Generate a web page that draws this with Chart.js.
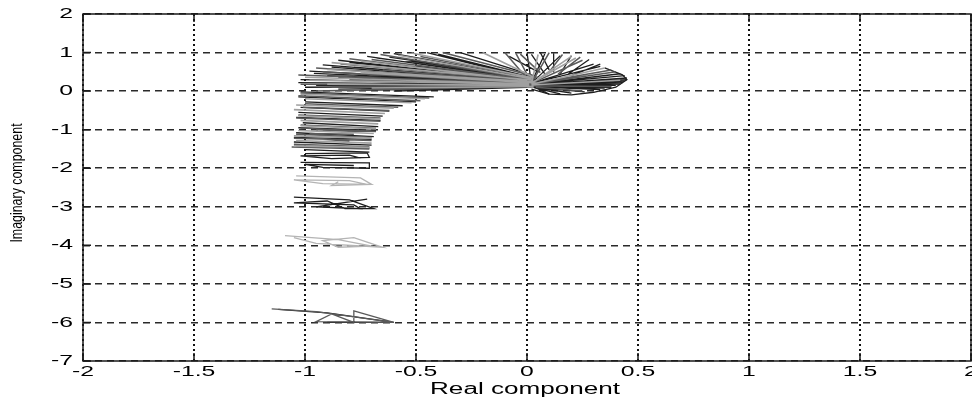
<!DOCTYPE html>
<html>
<head>
<meta charset="utf-8">
<title>Root locus</title>
<script src="https://cdn.jsdelivr.net/npm/chart.js@4.4.0/dist/chart.umd.min.js"></script>
<style>
  html, body { margin: 0; padding: 0; background: #ffffff; }
  #wrap { width: 972px; height: 399px; position: relative; }
</style>
</head>
<body>
<div id="wrap"><canvas id="locus-chart"></canvas></div>
<script>
// Axis ticks
const xTicks = [-2, -1.5, -1, -0.5, 0, 0.5, 1, 1.5, 2];
const xTickLabels = ['-2', '-1.5', '-1', '-0.5', '0', '0.5', '1', '1.5', '2'];
const yTicks = [2, 1, 0, -1, -2, -3, -4, -5, -6, -7];
const yTickLabels = ['2', '1', '0', '-1', '-2', '-3', '-4', '-5', '-6', '-7'];

// Dark segments (start -> end): upper fan, right lobe, spikes, left column
const darkX0 = [0.02, 0.00, 0.03, -0.02, 0.00, 0.02, 0.00, 0.04, 0.02, 0.05, 0.00, 0.03, 0.01, 0.04, -0.05,
  0.01, 0.03, 0.00, 0.02, 0.04, 0.01, 0.03, 0.05, 0.02, 0.00, 0.03, 0.02, -0.10, 0.00,
  0.02, 0.02, 0.02, 0.02, 0.02, 0.02, 0.03, 0.03, 0.02, 0.02, 0.04,
  0.03, 0.03, 0.03, 0.03, 0.03, 0.03, 0.02, 0.02, 0.02, 0.02,
  0.08, 0.12, 0.15, 0.18, 0.20, 0.05, 0.10,
  -1.02, -1.00, -1.03, -1.01, -1.04, -1.05, -1.00,
  -1.03, -1.02, -1.04, -1.03, -1.05, -1.04];
const darkY0 = [0.18, 0.22, 0.25, 0.28, 0.30, 0.33, 0.35, 0.38, 0.14, 0.12, 0.10, 0.20, 0.26, 0.16, 0.40,
  0.17, 0.21, 0.24, 0.27, 0.30, 0.32, 0.34, 0.15, 0.11, 0.19, 0.23, 0.28, 0.45, 0.13,
  0.20, 0.20, 0.20, 0.18, 0.16, 0.15, 0.12, 0.10, 0.14, 0.12, 0.08,
  0.14, 0.13, 0.12, 0.11, 0.10, 0.09, 0.17, 0.18, 0.22, 0.20,
  0.45, 0.48, 0.45, 0.42, 0.40, 0.50, 0.55,
  -0.02, -0.28, -0.55, -0.82, -1.08, -1.32, -1.52,
  -0.15, -0.42, -0.68, -0.95, -1.20, -1.42];
const darkX1 = [-1.02, -0.98, -0.92, -0.85, -0.72, -0.60, -0.45, -0.30, -1.00, -0.85, -0.60, -0.90, -0.78, -0.70, -0.55,
  -1.03, -0.96, -0.88, -0.80, -0.68, -0.55, -0.40, -0.95, -0.75, -0.85, -0.60, -0.50, -0.62, -0.50,
  0.00, 0.15, 0.30, 0.44, 0.45, 0.40, 0.30, 0.20, 0.43, 0.35, 0.10,
  0.44, 0.42, 0.38, 0.33, 0.26, 0.15, 0.45, 0.42, 0.08, 0.33,
  0.02, 0.12, 0.20, 0.28, 0.33, -0.08, 0.06,
  -0.42, -0.56, -0.65, -0.67, -0.69, -0.70, -0.71,
  -0.50, -0.62, -0.66, -0.68, -0.70, -0.71];
const darkY1 = [0.30, 0.52, 0.68, 0.80, 0.90, 0.97, 1.00, 1.00, 0.10, 0.05, 0.00, 0.40, 0.62, 0.25, 0.80,
  0.22, 0.46, 0.62, 0.74, 0.86, 0.92, 0.96, 0.15, 0.02, 0.35, 0.45, 0.65, 0.88, 0.05,
  1.00, 0.92, 0.70, 0.40, 0.30, 0.15, 0.05, -0.05, 0.22, 0.08, -0.08,
  0.26, 0.18, 0.10, 0.04, -0.02, -0.07, 0.34, 0.45, 0.96, 0.64,
  0.95, 0.98, 0.92, 0.82, 0.70, 0.90, 1.00,
  -0.15, -0.38, -0.65, -0.92, -1.18, -1.40, -1.58,
  -0.28, -0.52, -0.76, -1.02, -1.25, -1.48];

// Mid-gray segments
const grayX0 = [0.01, 0.03, 0.00, 0.02, 0.05, 0.02, 0.04, 0.00,
  0.02, 0.00, 0.03, 0.01, 0.04, 0.02, 0.00,
  0.02, 0.02, 0.02, 0.02, 0.02, 0.04, 0.02, 0.02,
  0.10, 0.14, 0.06,
  -1.03, -1.01, -1.04, -1.02, -1.05, -1.06, -0.95, -0.93, -0.92,
  -1.02, -1.00, -1.03, -1.02, -1.04, -1.05, -0.98];
const grayY0 = [0.20, 0.23, 0.27, 0.31, 0.36, 0.12, 0.17, 0.24,
  0.16, 0.21, 0.26, 0.30, 0.33, 0.13, 0.18,
  0.20, 0.20, 0.20, 0.18, 0.14, 0.10, 0.22, 0.19,
  0.50, 0.44, 0.48,
  -0.12, -0.42, -0.70, -0.96, -1.22, -1.45, -1.00, -1.15, -1.25,
  -0.05, -0.33, -0.62, -0.88, -1.12, -1.38, -1.10];
const grayX1 = [-1.03, -0.95, -0.80, -0.66, -0.38, -0.95, -0.80, -0.65,
  -1.02, -0.92, -0.84, -0.70, -0.48, -0.88, -0.55,
  -0.10, 0.10, 0.25, 0.40, 0.38, 0.25, -0.05, 0.38,
  0.16, 0.24, -0.03,
  -0.48, -0.62, -0.66, -0.68, -0.70, -0.71, -0.78, -0.77, -0.80,
  -0.44, -0.58, -0.66, -0.68, -0.70, -0.71, -0.78];
const grayY1 = [0.42, 0.60, 0.84, 0.95, 1.00, 0.00, 0.30, 0.55,
  0.18, 0.50, 0.70, 0.82, 0.90, 0.10, 0.30,
  1.00, 1.00, 0.80, 0.50, 0.12, 0.00, 0.98, 0.55,
  0.95, 0.88, 0.96,
  -0.25, -0.50, -0.78, -1.05, -1.28, -1.50, -1.05, -1.20, -1.30,
  -0.18, -0.42, -0.70, -0.96, -1.20, -1.44, -1.12];

// Light-gray segments
const lightX0 = [0.00, 0.02, 0.03, 0.01, 0.04, 0.02,
  0.01, 0.03, 0.00, 0.02, 0.03,
  0.02, 0.02, 0.02, 0.02, 0.02,
  -1.00, -1.05, -1.02, -1.03, -1.04,
  -1.02, -1.04, -1.03, -1.02, -1.05, -1.05];
const lightY0 = [0.19, 0.29, 0.34, 0.15, 0.21, 0.39,
  0.18, 0.24, 0.28, 0.32, 0.12,
  0.20, 0.20, 0.18, 0.16, 0.21,
  -0.20, -0.48, -0.76, -1.02, -1.28,
  -0.08, -0.36, -0.64, -0.90, -1.16, -1.42];
const lightX1 = [-1.00, -0.88, -0.52, -0.90, -0.75, -0.20,
  -0.98, -0.90, -0.75, -0.58, -0.70,
  0.05, 0.20, 0.35, 0.42, 0.22,
  -0.52, -0.64, -0.67, -0.69, -0.70,
  -0.46, -0.60, -0.66, -0.68, -0.70, -0.71];
const lightY1 = [0.36, 0.74, 0.99, 0.18, 0.48, 1.00,
  0.28, 0.56, 0.78, 0.93, 0.08,
  0.95, 0.90, 0.60, 0.28, 0.86,
  -0.30, -0.58, -0.85, -1.10, -1.35,
  -0.20, -0.44, -0.72, -0.98, -1.22, -1.46];

// Polylines
const lobeEdgeX = [0.02, 0.10, 0.20, 0.30, 0.40, 0.45, 0.43, 0.35];
const lobeEdgeY = [0.05, -0.08, -0.10, -0.03, 0.10, 0.30, 0.42, 0.60];
const loopAX = [-1.00, -0.72, -0.71, -0.88, -1.02, -0.80, -0.75];
const loopAY = [-1.62, -1.60, -1.72, -1.75, -1.68, -1.66, -1.74];
const loopBX = [-1.02, -0.71, -0.71, -0.92, -1.00, -0.78];
const loopBY = [-1.85, -1.86, -2.00, -1.98, -1.90, -1.93];
const ring2X = [-1.04, -0.75, -0.70, -0.92, -1.05, -0.80, -0.72, -0.88, -0.85];
const ring2Y = [-2.20, -2.25, -2.42, -2.40, -2.30, -2.32, -2.42, -2.45, -2.35];
const ring3X = [-1.05, -0.80, -0.69, -0.82, -0.90, -1.05, -0.78, -0.75, -0.95, -0.72];
const ring3Y = [-2.75, -2.82, -3.05, -3.05, -2.85, -2.90, -2.95, -3.05, -3.00, -2.80];
const ring4X = [-1.09, -0.85, -0.70, -0.85, -0.92, -0.78, -0.65, -0.95, -1.05];
const ring4Y = [-3.75, -3.85, -4.02, -4.05, -3.88, -3.80, -4.05, -3.95, -3.80];
const ring6X = [-1.15, -0.95, -0.60, -0.78, -0.78, -0.88, -0.95, -0.60];
const ring6Y = [-5.65, -5.72, -6.00, -5.70, -6.00, -5.78, -5.98, -6.00];
const ring6DarkX = [-1.12, -0.90, -0.60, -0.90];
const ring6DarkY = [-5.66, -5.75, -6.00, -6.00];

const DARK = '#1e1e1e';
const GRAY = '#5a5a5a';
const LIGHT = '#a0a0a0';
const PALE = '#b4b4b4';
const FONT = '"Liberation Sans", Arial, sans-serif';

function segments(x0, y0, x1, y1) {
  const pts = [];
  x0.forEach((v, i) => {
    pts.push({ x: v, y: y0[i] }, { x: x1[i], y: y1[i] }, { x: x1[i], y: null });
  });
  return pts;
}

function polyline(xs, ys) {
  return xs.map((v, i) => ({ x: v, y: ys[i] }));
}

function lineSet(data, color, width) {
  return {
    data: data,
    showLine: true,
    spanGaps: false,
    borderColor: color,
    borderWidth: width || 1.3,
    pointRadius: 0,
    fill: false,
    tension: 0
  };
}

// Box, inside ticks, stretched labels and axis titles
const frame = {
  id: 'frame',
  afterDraw(chart) {
    const { ctx, chartArea: a, scales } = chart;
    const xs = scales.x, ys = scales.y;
    ctx.save();
    ctx.strokeStyle = '#1a1a1a';
    ctx.lineWidth = 1.5;
    ctx.setLineDash([]);
    ctx.strokeRect(a.left, a.top, a.right - a.left, a.bottom - a.top);

    ctx.beginPath();
    xTicks.forEach(v => {
      const px = xs.getPixelForValue(v);
      ctx.moveTo(px, a.bottom); ctx.lineTo(px, a.bottom - 8);
      ctx.moveTo(px, a.top); ctx.lineTo(px, a.top + 8);
    });
    yTicks.forEach(v => {
      const py = ys.getPixelForValue(v);
      ctx.moveTo(a.left, py); ctx.lineTo(a.left + 8, py);
    });
    ctx.stroke();

    ctx.fillStyle = '#000000';
    ctx.font = '15px ' + FONT;
    ctx.textBaseline = 'middle';
    ctx.textAlign = 'center';
    xTicks.forEach((v, i) => {
      ctx.save();
      ctx.translate(xs.getPixelForValue(v), a.bottom + 11);
      ctx.scale(1.65, 1);
      ctx.fillText(xTickLabels[i], 0, 0);
      ctx.restore();
    });
    ctx.textAlign = 'right';
    yTicks.forEach((v, i) => {
      ctx.save();
      ctx.translate(a.left - 10, ys.getPixelForValue(v));
      ctx.scale(1.65, 1);
      ctx.fillText(yTickLabels[i], 0, 0);
      ctx.restore();
    });

    ctx.textAlign = 'center';
    ctx.font = '16px ' + FONT;
    ctx.save();
    ctx.translate(525, 390);
    ctx.scale(1.63, 1);
    ctx.fillText('Real component', 0, 0);
    ctx.restore();

    ctx.font = '12.4px ' + FONT;
    ctx.save();
    ctx.translate(17, 183);
    ctx.rotate(-Math.PI / 2);
    ctx.scale(1, 1.35);
    ctx.fillText('Imaginary component', 0, 0);
    ctx.restore();
    ctx.restore();
  }
};

const ctx = document.getElementById('locus-chart').getContext('2d');
new Chart(ctx, {
  type: 'scatter',
  data: {
    datasets: [
      lineSet(segments(lightX0, lightY0, lightX1, lightY1), LIGHT, 1.6),
      lineSet(segments(grayX0, grayY0, grayX1, grayY1), GRAY, 1.5),
      lineSet(segments(darkX0, darkY0, darkX1, darkY1), DARK, 1.3),
      lineSet(polyline(lobeEdgeX, lobeEdgeY), DARK),
      lineSet(polyline(loopAX, loopAY), DARK),
      lineSet(polyline(loopBX, loopBY), DARK),
      lineSet(polyline(ring2X, ring2Y), PALE),
      lineSet(polyline(ring3X, ring3Y), DARK),
      lineSet(polyline(ring4X, ring4Y), PALE),
      lineSet(polyline(ring6X, ring6Y), GRAY),
      lineSet(polyline(ring6DarkX, ring6DarkY), DARK)
    ]
  },
  options: {
    responsive: true,
    maintainAspectRatio: false,
    animation: false,
    layout: { padding: { top: 14, right: 1, left: 0, bottom: 0 } },
    plugins: {
      legend: { display: false },
      tooltip: { enabled: false }
    },
    scales: {
      x: {
        type: 'linear',
        min: -2,
        max: 2,
        afterBuildTicks: s => { s.ticks = xTicks.map(v => ({ value: v })); },
        afterFit: s => { s.height = 38; },
        ticks: { display: false },
        grid: { color: '#111111', lineWidth: 2, drawTicks: false },
        border: { display: false, dash: [2, 3] }
      },
      y: {
        type: 'linear',
        min: -7,
        max: 2,
        afterBuildTicks: s => { s.ticks = yTicks.map(v => ({ value: v })); },
        afterFit: s => { s.width = 83; },
        ticks: { display: false },
        grid: { color: '#2a2a2a', lineWidth: 1.5, drawTicks: false },
        border: { display: false, dash: [7, 5] }
      }
    }
  },
  plugins: [frame]
});
</script>
</body>
</html>
